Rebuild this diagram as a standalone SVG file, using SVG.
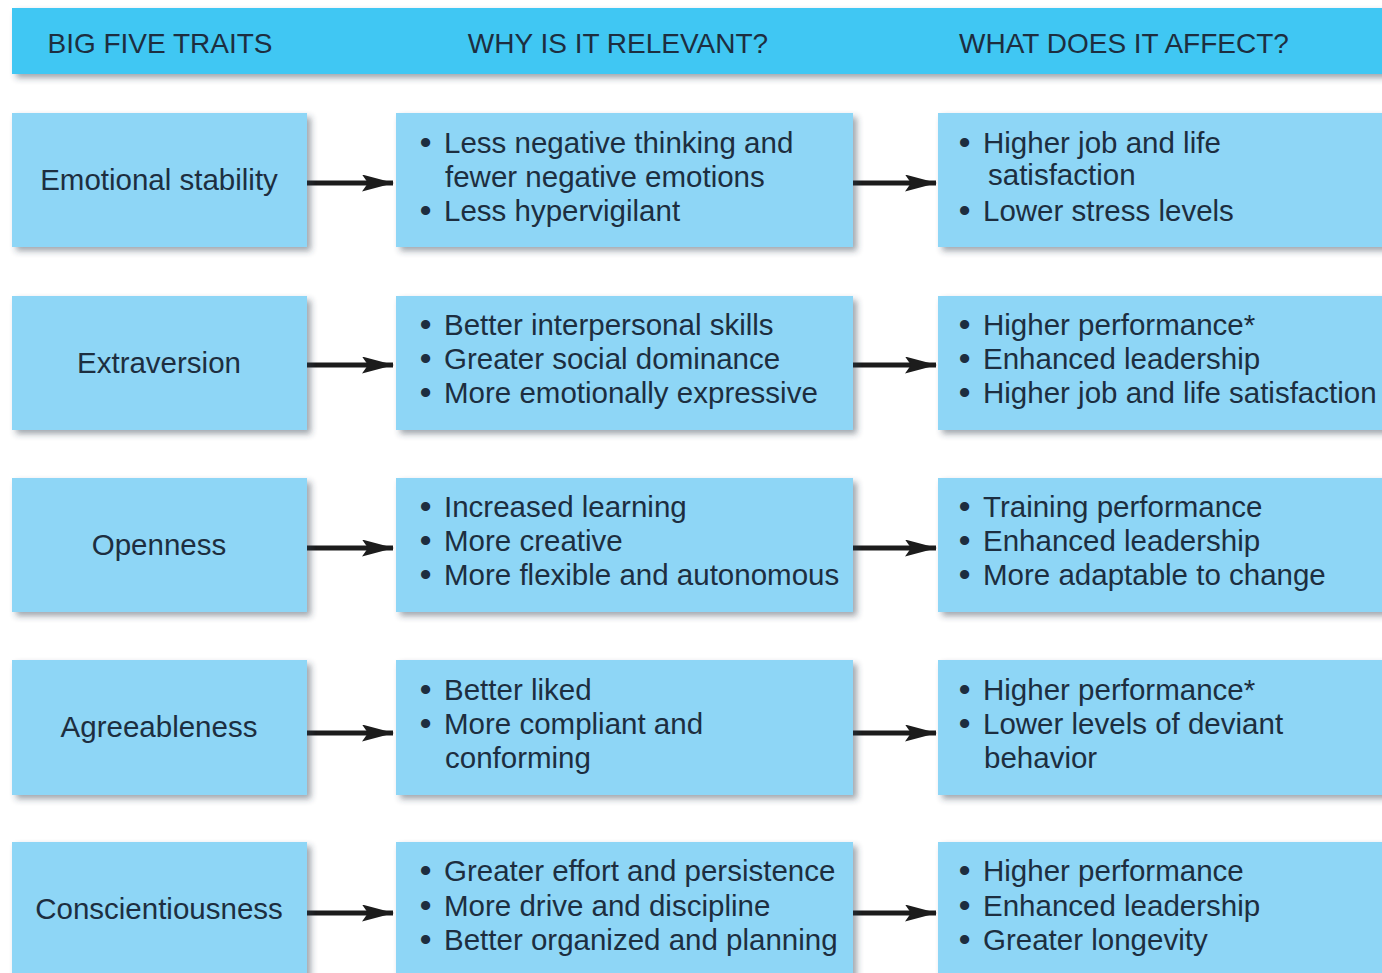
<svg xmlns="http://www.w3.org/2000/svg" width="1382" height="973" viewBox="0 0 1382 973">
<defs>
<filter id="sh" x="-5%" y="-10%" width="115%" height="130%">
<feDropShadow dx="4" dy="4" stdDeviation="3" flood-color="#2a3a4a" flood-opacity="0.45"/>
</filter>
<marker id="ah" markerUnits="userSpaceOnUse" viewBox="0 0 32 17" markerWidth="32" markerHeight="17" refX="31" refY="8.5" orient="auto">
<path d="M0,0 L32,8.5 L0,17 L6,8.5 Z" fill="#1c1c1c"/>
</marker>
<style>
.hdr{fill:#40c7f3;filter:url(#sh)}
.box{fill:#8ed6f6;filter:url(#sh)}
text{font-family:"Liberation Sans",Arial,sans-serif;fill:#1d2e40}
.h{font-size:28px;text-anchor:middle}
.t{font-size:29.5px;text-anchor:middle}
.b{font-size:29.5px}
.d{font-size:32px;font-weight:bold}
.c{stroke:#1c1c1c;stroke-width:5;fill:none;marker-end:url(#ah)}
</style>
</defs>
<rect width="1382" height="973" fill="#ffffff"/>

<g id="header">
<rect class="hdr" x="12" y="8" width="1380" height="66"/>
<text class="h" x="160" y="53">BIG FIVE TRAITS</text>
<text class="h" x="618" y="53">WHY IS IT RELEVANT?</text>
<text class="h" x="1124" y="53">WHAT DOES IT AFFECT?</text>
</g>

<g id="connectors">
<line class="c" x1="306" y1="183" x2="393" y2="183"/>
<line class="c" x1="851" y1="183" x2="936" y2="183"/>
<line class="c" x1="306" y1="365" x2="393" y2="365"/>
<line class="c" x1="851" y1="365" x2="936" y2="365"/>
<line class="c" x1="306" y1="548" x2="393" y2="548"/>
<line class="c" x1="851" y1="548" x2="936" y2="548"/>
<line class="c" x1="306" y1="733" x2="393" y2="733"/>
<line class="c" x1="851" y1="733" x2="936" y2="733"/>
<line class="c" x1="306" y1="913" x2="393" y2="913"/>
<line class="c" x1="851" y1="913" x2="936" y2="913"/>
</g>

<g id="trait-emotional-stability">
<rect class="box" x="12" y="113" width="295" height="134"/>
<text class="t" x="159" y="190">Emotional stability</text>
</g>
<g id="why-emotional-stability">
<rect class="box" x="396" y="113" width="457" height="134"/>
<text class="b" y="153"><tspan class="d" x="420">•</tspan><tspan x="444">Less negative thinking and</tspan></text>
<text class="b" x="445" y="187">fewer negative emotions</text>
<text class="b" y="221"><tspan class="d" x="420">•</tspan><tspan x="444">Less hypervigilant</tspan></text>
</g>
<g id="affect-emotional-stability">
<rect class="box" x="938" y="113" width="460" height="134"/>
<text class="b" y="153"><tspan class="d" x="959">•</tspan><tspan x="983">Higher job and life</tspan></text>
<text class="b" x="988" y="185">satisfaction</text>
<text class="b" y="221"><tspan class="d" x="959">•</tspan><tspan x="983">Lower stress levels</tspan></text>
</g>

<g id="trait-extraversion">
<rect class="box" x="12" y="296" width="295" height="134"/>
<text class="t" x="159" y="373">Extraversion</text>
</g>
<g id="why-extraversion">
<rect class="box" x="396" y="296" width="457" height="134"/>
<text class="b" y="335"><tspan class="d" x="420">•</tspan><tspan x="444">Better interpersonal skills</tspan></text>
<text class="b" y="369"><tspan class="d" x="420">•</tspan><tspan x="444">Greater social dominance</tspan></text>
<text class="b" y="403"><tspan class="d" x="420">•</tspan><tspan x="444">More emotionally expressive</tspan></text>
</g>
<g id="affect-extraversion">
<rect class="box" x="938" y="296" width="460" height="134"/>
<text class="b" y="335"><tspan class="d" x="959">•</tspan><tspan x="983">Higher performance*</tspan></text>
<text class="b" y="369"><tspan class="d" x="959">•</tspan><tspan x="983">Enhanced leadership</tspan></text>
<text class="b" y="403"><tspan class="d" x="959">•</tspan><tspan x="983">Higher job and life satisfaction</tspan></text>
</g>

<g id="trait-openness">
<rect class="box" x="12" y="478" width="295" height="134"/>
<text class="t" x="159" y="555">Openness</text>
</g>
<g id="why-openness">
<rect class="box" x="396" y="478" width="457" height="134"/>
<text class="b" y="517"><tspan class="d" x="420">•</tspan><tspan x="444">Increased learning</tspan></text>
<text class="b" y="551"><tspan class="d" x="420">•</tspan><tspan x="444">More creative</tspan></text>
<text class="b" y="585"><tspan class="d" x="420">•</tspan><tspan x="444">More flexible and autonomous</tspan></text>
</g>
<g id="affect-openness">
<rect class="box" x="938" y="478" width="460" height="134"/>
<text class="b" y="517"><tspan class="d" x="959">•</tspan><tspan x="983">Training performance</tspan></text>
<text class="b" y="551"><tspan class="d" x="959">•</tspan><tspan x="983">Enhanced leadership</tspan></text>
<text class="b" y="585"><tspan class="d" x="959">•</tspan><tspan x="983">More adaptable to change</tspan></text>
</g>

<g id="trait-agreeableness">
<rect class="box" x="12" y="660" width="295" height="135"/>
<text class="t" x="159" y="737">Agreeableness</text>
</g>
<g id="why-agreeableness">
<rect class="box" x="396" y="660" width="457" height="135"/>
<text class="b" y="700"><tspan class="d" x="420">•</tspan><tspan x="444">Better liked</tspan></text>
<text class="b" y="734"><tspan class="d" x="420">•</tspan><tspan x="444">More compliant and</tspan></text>
<text class="b" x="445" y="768">conforming</text>
</g>
<g id="affect-agreeableness">
<rect class="box" x="938" y="660" width="460" height="135"/>
<text class="b" y="700"><tspan class="d" x="959">•</tspan><tspan x="983">Higher performance*</tspan></text>
<text class="b" y="734"><tspan class="d" x="959">•</tspan><tspan x="983">Lower levels of deviant</tspan></text>
<text class="b" x="984" y="768">behavior</text>
</g>

<g id="trait-conscientiousness">
<rect class="box" x="12" y="842" width="295" height="150"/>
<text class="t" x="159" y="919">Conscientiousness</text>
</g>
<g id="why-conscientiousness">
<rect class="box" x="396" y="842" width="457" height="150"/>
<text class="b" y="881"><tspan class="d" x="420">•</tspan><tspan x="444">Greater effort and persistence</tspan></text>
<text class="b" y="916"><tspan class="d" x="420">•</tspan><tspan x="444">More drive and discipline</tspan></text>
<text class="b" y="950"><tspan class="d" x="420">•</tspan><tspan x="444">Better organized and planning</tspan></text>
</g>
<g id="affect-conscientiousness">
<rect class="box" x="938" y="842" width="460" height="150"/>
<text class="b" y="881"><tspan class="d" x="959">•</tspan><tspan x="983">Higher performance</tspan></text>
<text class="b" y="916"><tspan class="d" x="959">•</tspan><tspan x="983">Enhanced leadership</tspan></text>
<text class="b" y="950"><tspan class="d" x="959">•</tspan><tspan x="983">Greater longevity</tspan></text>
</g>
</svg>
